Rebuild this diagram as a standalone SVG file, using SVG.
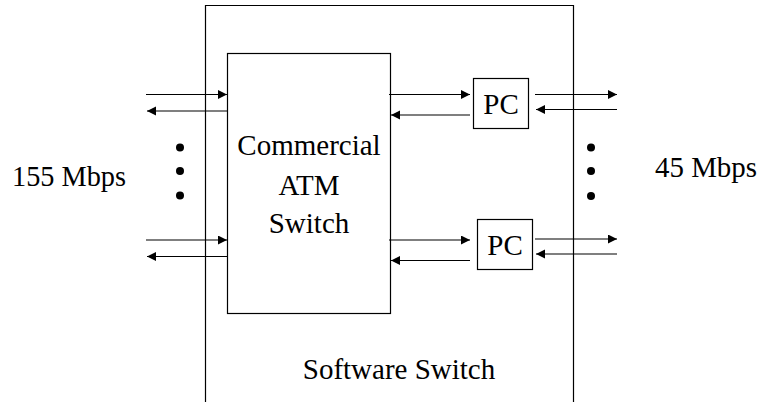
<svg xmlns="http://www.w3.org/2000/svg" width="763" height="402" viewBox="0 0 763 402">
<style>
.box{fill:none;stroke:#000;stroke-width:1.2}
.ln{stroke:#000;stroke-width:1.2;fill:none;marker-end:url(#ah)}
.t{font-family:"Liberation Serif","Times New Roman",serif;font-size:29px;fill:#000}
.dot{fill:#000}
</style>
<defs>
<marker id="ah" markerUnits="userSpaceOnUse" markerWidth="11" markerHeight="11" refX="9" refY="4.5" orient="auto">
<path d="M0,0 L9,4.5 L0,9 z" fill="#000"/>
</marker>
</defs>
<rect width="763" height="402" fill="#fff"/>
<g id="software-switch">
<path class="box" d="M205.5,410 V5.5 H573.5 V410"/>
<text class="t" x="399" y="379" text-anchor="middle">Software Switch</text>
</g>
<g id="atm-switch">
<rect class="box" x="227.5" y="53.5" width="163" height="260"/>
<text class="t" x="309" y="155" text-anchor="middle">Commercial</text>
<text class="t" x="309" y="195" text-anchor="middle">ATM</text>
<text class="t" x="309" y="233" text-anchor="middle">Switch</text>
</g>
<g id="pc1">
<rect class="box" x="473.5" y="78.5" width="55" height="50"/>
<text class="t" x="501" y="114" text-anchor="middle">PC</text>
</g>
<g id="pc2">
<rect class="box" x="477.5" y="219.5" width="55" height="50"/>
<text class="t" x="505" y="255" text-anchor="middle">PC</text>
</g>
<g id="labels">
<text class="t" x="12" y="186" textLength="114" lengthAdjust="spacingAndGlyphs">155 Mbps</text>
<text class="t" x="655" y="177" textLength="102" lengthAdjust="spacingAndGlyphs">45 Mbps</text>
</g>
<g id="dots">
<circle class="dot" cx="180" cy="147.5" r="4"/>
<circle class="dot" cx="180" cy="171" r="4"/>
<circle class="dot" cx="180" cy="195.5" r="4"/>
<circle class="dot" cx="591" cy="147.5" r="4"/>
<circle class="dot" cx="591" cy="171" r="4"/>
<circle class="dot" cx="591" cy="196" r="4"/>
</g>
<g id="connectors">
<line class="ln" x1="146" y1="94.5" x2="227" y2="94.5"/>
<line class="ln" x1="227" y1="111" x2="147" y2="111"/>
<line class="ln" x1="146" y1="240" x2="227" y2="240"/>
<line class="ln" x1="227" y1="256.5" x2="147" y2="256.5"/>
<line class="ln" x1="389" y1="94.5" x2="470" y2="94.5"/>
<line class="ln" x1="470" y1="115" x2="391" y2="115"/>
<line class="ln" x1="389" y1="240" x2="470" y2="240"/>
<line class="ln" x1="470" y1="260.5" x2="391" y2="260.5"/>
<line class="ln" x1="535" y1="94.5" x2="617" y2="94.5"/>
<line class="ln" x1="617" y1="109.5" x2="536" y2="109.5"/>
<line class="ln" x1="535" y1="239" x2="617" y2="239"/>
<line class="ln" x1="617" y1="254" x2="536" y2="254"/>
</g>
</svg>
